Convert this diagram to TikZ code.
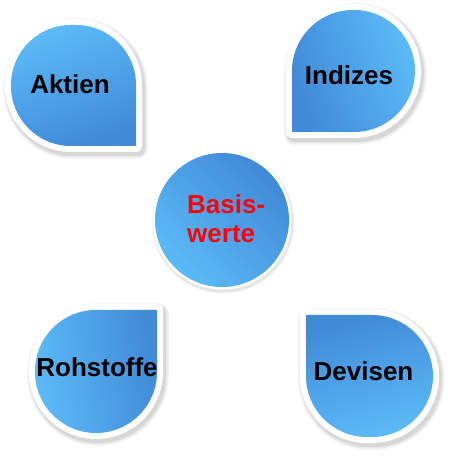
\documentclass[tikz,border=0pt]{standalone}
\usepackage{fontspec}
\setmainfont{Liberation Sans}
\definecolor{bluelight}{RGB}{92,186,248}
\definecolor{bluedark}{RGB}{64,138,214}
\definecolor{txtred}{RGB}{255,0,0}
\newcommand\pAktien{(136,314) -- (71,314) arc[start angle=270,end angle=180,radius=60] -- (11,375) arc[start angle=180,end angle=90,radius=60] -- (76,435) arc[start angle=90,end angle=0,radius=60] -- cycle}
\newcommand\pIndizes{(292,328) -- (292,389) arc[start angle=180,end angle=90,radius=61] -- (354,450) arc[start angle=90,end angle=0,radius=61] arc[start angle=0,end angle=-90,radius=61] -- cycle}
\newcommand\pRohstoffe{(157,150) -- (96,150) arc[start angle=90,end angle=180,radius=61] -- (35,88) arc[start angle=180,end angle=270,radius=61] arc[start angle=270,end angle=360,radius=61] -- cycle}
\newcommand\pDevisen{(306,145) -- (372,145) arc[start angle=90,end angle=0,radius=61] arc[start angle=0,end angle=-90,radius=61] -- (367,23) arc[start angle=270,end angle=180,radius=61] -- cycle}
\newcommand\pBasis{(222,240) circle[radius=67]}
\tikzset{
  shadowline/.style={line width=#1, black, line join=round},
  whiteborder/.style={draw=white, fill=white, line width=#1, line join=round},
  lbl/.style={font=\bfseries\fontsize{26}{29}\selectfont, inner sep=0pt, text=black},
}
\begin{document}
\begin{tikzpicture}[x=1pt,y=1pt]
\useasboundingbox (0,0) rectangle (453,460);
\fill[white] (0,0) rectangle (453,460);
% shadows
\foreach \p in {\pAktien,\pIndizes,\pRohstoffe,\pDevisen}{
  \begin{scope}[shift={(2,-3)}]
    \draw[shadowline=20, opacity=0.04] \p;
    \draw[shadowline=17, opacity=0.05] \p;
    \draw[shadowline=14, opacity=0.07] \p;
  \end{scope}
}
\begin{scope}[shift={(1,-2)}]
  \draw[shadowline=9, opacity=0.04] \pBasis;
  \draw[shadowline=7, opacity=0.06] \pBasis;
\end{scope}
% white borders
\foreach \p in {\pAktien,\pIndizes,\pRohstoffe,\pDevisen}{
  \path[whiteborder=12] \p;
}
\path[whiteborder=5] \pBasis;
% blue fills
\shade[top color=bluelight, bottom color=bluedark, shading angle=20] \pAktien;
\shade[top color=bluelight, bottom color=bluedark, shading angle=-70] \pIndizes;
\shade[top color=bluelight, bottom color=bluedark, shading angle=100] \pRohstoffe;
\shade[top color=bluedark, bottom color=bluelight, shading angle=15] \pDevisen;
\shade[top color=bluedark, bottom color=bluelight, shading angle=-45] \pBasis;
% labels
\node[lbl, anchor=base] (aktien) at (70,366) {Aktien};
\node[lbl, anchor=base] (indizes) at (349,375) {Indizes};
\node[lbl, anchor=base] (rohstoffe) at (97,83) {Rohstoffe};
\node[lbl, anchor=base] (devisen) at (363.5,79) {Devisen};
\node[lbl, anchor=north west, align=left, text=txtred] (basis) at (187,266) {Basis-\\werte};
\end{tikzpicture}
\end{document}
